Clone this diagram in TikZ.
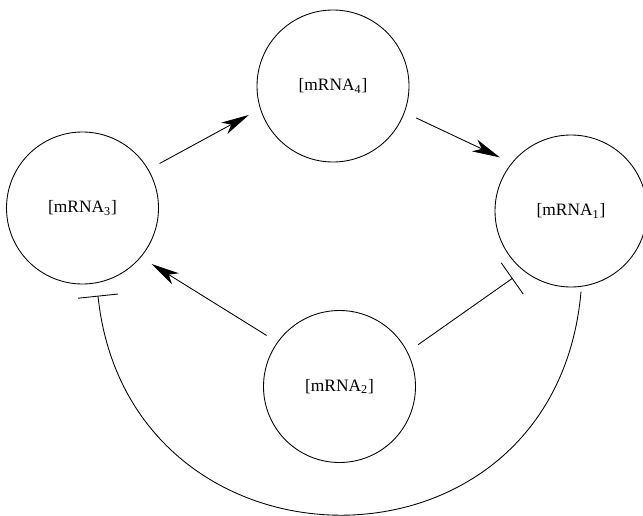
\documentclass[tikz,border=0pt]{standalone}
\usepackage{fontspec}
\setmainfont{Liberation Serif}
\usetikzlibrary{arrows.meta}

\begin{document}
\begin{tikzpicture}[x=0.575pt, y=0.575pt, every node/.style={font=\normalsize}, line width=0.5pt,
	gene/.style={draw, circle, minimum size=87.4pt, inner sep=0pt, outer sep=7.5pt},
	>={Stealth[length=16pt, width=7.4pt, inset=4.5pt]}]
	\useasboundingbox (0,0) rectangle (643,515);
	\node[gene] (m4) at (333,429) {[mRNA\textsubscript{4}]};
	\node[gene] (m3) at (82.5,307) {[mRNA\textsubscript{3}]};
	\node[gene] (m1) at (571,304) {[mRNA\textsubscript{1}]};
	\node[gene] (m2) at (339.5,128.5) {[mRNA\textsubscript{2}]};
	\draw[->] (m3.30.6) -- (m4.199.3);
	\draw[->] (m4.-21.1) -- (m1.143.6);
	\draw[->] (m2.145.7) -- (m3.-39.5);
	\draw[-{Bar[width=22pt]}] (m2.28.7) -- (m1.229.3);
	\draw[-{Bar[width=23pt]}, shorten <=-4.6pt] (m1.-84) to[out=-95, in=-84, looseness=1.55] (m3.-80.5);
\end{tikzpicture}
\end{document}
